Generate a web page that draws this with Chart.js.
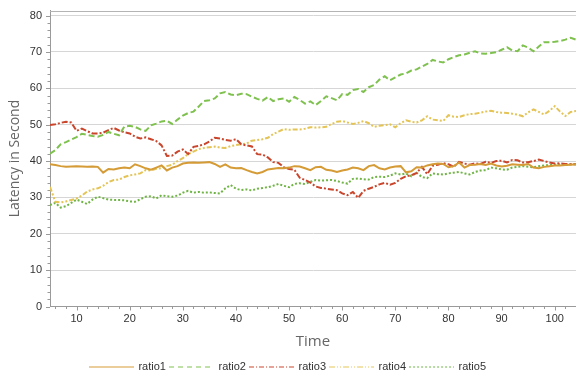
<!DOCTYPE html>
<html>
<head>
<meta charset="utf-8">
<script src="https://cdn.jsdelivr.net/npm/chart.js@4/dist/chart.umd.min.js"></script>
<style>
  html, body { margin: 0; padding: 0; background: #fff; }
  #wrap { width: 576px; height: 376px; }
</style>
</head>
<body>
<div id="wrap"><canvas id="c" width="576" height="376"></canvas></div>
<script>
// Time steps 5..104
const times = [];
for (let t = 5; t <= 104; t++) times.push(t);

const seriesNames = ['ratio1', 'ratio2', 'ratio3', 'ratio4', 'ratio5'];

const ratio1 = [
  39.1, 38.9, 38.6, 38.4, 38.5, 38.6, 38.5, 38.4, 38.5, 38.4,
  36.8, 37.8, 37.7, 38.0, 38.2, 38.0, 39.1, 38.6, 38.0, 37.6,
  38.2, 38.8, 37.4, 38.2, 38.6, 39.3, 39.5, 39.6, 39.5, 39.6,
  39.7, 39.2, 38.4, 39.1, 38.2, 38.0, 38.1, 37.5, 37.0, 36.6,
  37.0, 37.7, 37.9, 38.1, 38.0, 38.2, 38.6, 38.5, 38.0, 37.5,
  38.3, 38.4, 37.6, 37.4, 37.0, 37.4, 37.7, 38.2, 38.0, 37.5,
  38.6, 38.9, 38.0, 37.7, 38.2, 38.5, 38.6, 36.9, 37.2, 38.3,
  38.2, 38.8, 39.1, 39.3, 39.2, 38.3, 38.6, 39.6, 38.2, 38.9,
  39.0, 39.2, 38.9, 39.3, 38.8, 38.5, 38.7, 39.1, 39.0, 38.9,
  39.2, 38.2, 38.0, 38.4, 38.6, 38.8, 38.8, 38.9, 39.0, 39.1
];

const ratio2 = [
  42.0, 43.0, 44.6, 45.2, 45.9, 46.6, 47.5, 47.2, 46.9, 46.7,
  47.2, 48.0, 47.5, 47.1, 49.5, 49.7, 49.4, 48.7, 48.3, 49.8,
  50.3, 50.9, 51.1, 50.2, 51.4, 52.5, 53.2, 53.6, 55.0, 56.5,
  56.7, 57.2, 58.6, 59.0, 58.3, 58.1, 58.5, 58.4, 57.7, 57.1,
  56.6, 57.6, 56.5, 57.0, 57.2, 56.3, 57.6, 56.8, 55.8, 56.4,
  55.4, 56.5, 57.8, 57.3, 56.7, 58.4, 58.2, 59.5, 59.8, 59.0,
  60.3, 60.9, 62.4, 63.3, 62.2, 63.0, 63.8, 64.1, 64.9, 65.2,
  66.0, 66.7, 67.8, 67.4, 67.1, 68.0, 68.6, 69.1, 69.3, 69.8,
  70.2, 69.6, 69.5, 69.7, 69.9, 70.6, 71.3, 70.4, 70.2, 71.8,
  71.2, 70.2, 71.5, 72.7, 72.7, 72.8, 73.0, 73.4, 73.9, 73.4
];

const ratio3 = [
  49.9, 50.1, 50.5, 50.8, 50.6, 48.3, 48.9, 48.2, 47.6, 47.6,
  47.8, 48.5, 49.1, 48.4, 47.9, 47.6, 46.7, 46.2, 46.5, 46.0,
  45.5, 44.3, 41.4, 41.5, 42.6, 43.2, 41.9, 43.9, 44.2, 44.6,
  45.4, 46.4, 46.2, 45.8, 45.6, 46.0, 44.6, 44.3, 44.0, 41.9,
  41.8, 41.0, 39.7, 39.5, 38.3, 37.8, 37.6, 35.4, 34.8, 34.1,
  33.0, 32.6, 32.4, 32.2, 32.0, 31.1, 30.6, 31.5, 29.9, 31.8,
  32.4, 32.9, 33.6, 34.0, 33.5, 34.0, 35.1, 35.8, 36.1, 36.7,
  38.4, 36.4, 38.7, 39.0, 39.4, 39.1, 38.4, 39.8, 39.3, 39.0,
  39.4, 39.2, 39.8, 39.5, 40.0, 40.1, 39.6, 40.3, 40.2, 39.6,
  39.7, 40.0, 40.4, 40.0, 39.6, 39.3, 39.4, 39.2, 39.1, 39.1
];

const ratio4 = [
  32.9, 28.8, 28.6, 28.9, 29.3, 29.7, 30.5, 31.6, 32.2, 32.5,
  33.2, 34.2, 34.8, 34.9, 35.6, 36.1, 36.3, 36.6, 37.5, 37.4,
  37.9, 38.0, 38.6, 39.0, 40.0, 40.8, 41.9, 42.6, 43.3, 43.6,
  43.8, 44.0, 43.7, 43.6, 44.1, 44.4, 44.6, 44.8, 45.6, 45.8,
  46.0, 46.4, 47.4, 48.1, 48.8, 48.6, 48.7, 48.7, 48.9, 49.3,
  49.2, 49.3, 49.4, 50.2, 50.8, 51.0, 50.6, 50.2, 50.5, 51.0,
  50.4, 49.4, 49.7, 49.9, 50.1, 49.3, 50.4, 51.2, 50.8, 50.6,
  51.2, 52.3, 51.4, 51.2, 51.0, 52.6, 52.2, 52.1, 52.6, 52.9,
  53.0, 53.3, 53.6, 53.8, 53.5, 53.3, 53.2, 53.0, 52.8, 52.3,
  53.4, 54.2, 53.5, 52.8, 53.8, 55.1, 53.6, 52.4, 53.5, 53.8
];

const ratio5 = [
  27.9, 28.5, 27.2, 27.6, 28.5, 29.4, 28.8, 28.2, 29.4, 30.2,
  29.8, 29.4, 29.3, 29.3, 29.2, 28.9, 28.8, 29.5, 30.2, 30.3,
  29.7, 30.6, 30.3, 30.2, 30.5, 31.3, 31.8, 31.3, 31.5, 31.3,
  31.4, 31.2, 31.1, 32.5, 33.4, 32.4, 32.0, 32.2, 31.9, 32.4,
  32.6, 32.8, 33.2, 33.7, 33.2, 32.8, 33.7, 33.9, 33.7, 34.3,
  34.8, 34.6, 34.7, 34.8, 34.5, 34.1, 33.8, 35.1, 35.2, 35.0,
  34.9, 35.6, 35.7, 35.6, 36.0, 36.6, 36.3, 36.6, 35.8, 36.8,
  35.6, 35.3, 36.6, 36.4, 36.3, 36.6, 36.8, 37.0, 36.6, 36.3,
  37.0, 37.4, 37.5, 38.2, 38.0, 37.7, 37.6, 38.2, 38.4, 38.6,
  38.4, 38.3, 38.6, 38.8, 38.9, 39.0, 39.1, 39.0, 39.1, 39.1
];

const seriesValues = [ratio1, ratio2, ratio3, ratio4, ratio5];
const seriesColors = ['#d49b36', '#7fc14f', '#c9462c', '#e4c457', '#6fb444'];
const seriesDashes = [[], [6, 3], [6, 2, 2, 2], [5, 2, 2, 2, 2, 2], [2, 2]];
const legendDashes = [[], [5, 4], [5, 2, 1, 2], [6, 2, 1, 2, 1, 2], [2, 2]];

const xTickLabels = [10, 20, 30, 40, 50, 60, 70, 80, 90, 100];
const yTickLabels = [0, 10, 20, 30, 40, 50, 60, 70, 80];

const FONT = '"Liberation Sans", Arial, sans-serif';
const TITLE_FONT = '"Open Sans", sans-serif';

const datasets = seriesNames.map((name, i) => ({
  label: name,
  data: times.map((t, k) => ({ x: t, y: seriesValues[i][k] })),
  borderColor: seriesColors[i],
  backgroundColor: seriesColors[i],
  borderWidth: 2,
  borderDash: seriesDashes[i],
  pointRadius: 0,
  tension: 0,
  fill: false
}));

// Small line swatch with the series' dash pattern, used as the legend symbol
function legendSwatch(color, dash) {
  const cv = document.createElement('canvas');
  cv.width = 45; cv.height = 3;
  const g = cv.getContext('2d');
  g.strokeStyle = color;
  g.lineWidth = 1;
  g.setLineDash(dash);
  g.beginPath();
  g.moveTo(0, 1.5);
  g.lineTo(45, 1.5);
  g.stroke();
  return cv;
}
const swatches = seriesColors.map((c, i) => legendSwatch(c, legendDashes[i]));

// Short minor ticks every 2 units, longer ones at labelled values, plus the top frame line
const axisTicks = {
  id: 'axisTicks',
  afterInit(chart) {
    const lg = chart.legend;
    const fit = lg.fit.bind(lg);
    lg.fit = function () { fit(); this.height = 14; };
  },
  afterDraw(chart) {
    const { ctx, chartArea, scales } = chart;
    ctx.save();
    ctx.strokeStyle = '#9a9a9a';
    ctx.lineWidth = 1;
    ctx.beginPath();
    scales.x.ticks.forEach(tk => {
      const px = Math.round(scales.x.getPixelForValue(tk.value)) + 0.5;
      const len = xTickLabels.includes(tk.value) ? 4 : 2.5;
      ctx.moveTo(px, chartArea.bottom);
      ctx.lineTo(px, chartArea.bottom + len);
    });
    scales.y.ticks.forEach(tk => {
      const py = Math.round(scales.y.getPixelForValue(tk.value)) + 0.5;
      const len = yTickLabels.includes(tk.value) ? 4 : 2.5;
      ctx.moveTo(chartArea.left, py);
      ctx.lineTo(chartArea.left - len, py);
    });
    ctx.stroke();
    ctx.strokeStyle = '#b4b4b4';
    ctx.beginPath();
    ctx.moveTo(chartArea.left, Math.round(chartArea.top) + 0.5);
    ctx.lineTo(chartArea.right, Math.round(chartArea.top) + 0.5);
    ctx.stroke();
    ctx.restore();
  }
};

new Chart(document.getElementById('c'), {
  type: 'line',
  data: { datasets },
  plugins: [axisTicks],
  options: {
    responsive: false,
    animation: false,
    layout: { padding: { top: 10.5, right: 0, left: 0, bottom: 4.5 } },
    plugins: {
      tooltip: { enabled: false },
      legend: {
        position: 'bottom',
        labels: {
          usePointStyle: true,
          pointStyleWidth: 43,
          boxHeight: 3,
          padding: 4,
          color: '#333',
          font: { family: FONT, size: 11 },
          generateLabels(chart) {
            const items = Chart.defaults.plugins.legend.labels.generateLabels(chart);
            items.forEach((it, i) => { it.pointStyle = swatches[i]; it.lineWidth = 0; });
            return items;
          }
        }
      }
    },
    scales: {
      x: {
        type: 'linear',
        min: 5,
        max: 104,
        afterFit(scale) { scale.height = 51; scale.paddingLeft = 0; scale.paddingRight = 0; },
        ticks: {
          stepSize: 2,
          includeBounds: false,
          autoSkip: false,
          maxRotation: 0,
          padding: 6,
          color: '#333',
          font: { family: FONT, size: 11 },
          callback: v => xTickLabels.includes(v) ? String(v) : ''
        },
        grid: { display: false, drawTicks: false },
        border: { display: true, color: '#9a9a9a' },
        title: {
          display: true,
          text: 'Time',
          color: '#666',
          font: { family: TITLE_FONT, size: 15 },
          padding: { top: 4, bottom: 7 }
        }
      },
      y: {
        type: 'linear',
        min: 0,
        max: 81.4,
        afterFit(scale) { scale.width = 50; scale.paddingTop = 0; scale.paddingBottom = 0; },
        ticks: {
          stepSize: 2,
          includeBounds: false,
          autoSkip: false,
          padding: 8,
          color: '#333',
          font: { family: FONT, size: 11 },
          callback: v => yTickLabels.includes(v) ? String(v) : ''
        },
        grid: {
          drawTicks: false,
          color: c => (c.tick && yTickLabels.includes(c.tick.value) && c.tick.value !== 0) ? '#d6d6d6' : 'rgba(0,0,0,0)',
          lineWidth: 1
        },
        border: { display: true, color: '#9a9a9a' },
        title: {
          display: true,
          text: 'Latency in Second',
          color: '#666',
          font: { family: TITLE_FONT, size: 14 },
          padding: { top: 7, bottom: 0 }
        }
      }
    }
  }
});
</script>
</body>
</html>
